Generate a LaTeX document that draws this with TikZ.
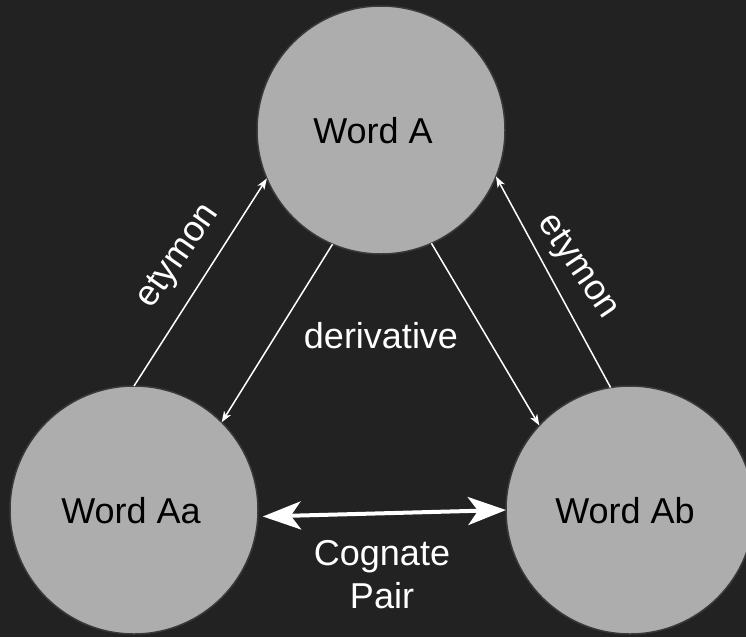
\documentclass[tikz,border=0pt]{standalone}
\usepackage{fontspec}
\setmainfont{Liberation Sans}
\usetikzlibrary{arrows.meta,calc}
\definecolor{bg}{HTML}{222222}
\definecolor{disc}{HTML}{ADADAD}
\definecolor{rim}{HTML}{3A3A3A}
\tikzset{pairtip/.tip={Stealth[length=38pt,width=28pt,inset=10pt]}}
\begin{document}
\begin{tikzpicture}[x=1pt,y=-1pt,
  word/.style={circle,fill=disc,draw=rim,line width=1.5pt,minimum size=248pt,inner sep=0pt,outer sep=0pt},
  wordlabel/.style={font=\fontsize{36}{43}\selectfont,text=black,anchor=base,inner sep=0pt},
  linklabel/.style={font=\fontsize{36}{43}\selectfont,text=white,inner sep=0pt},
  link/.style={draw=white,line width=1.5pt,-{Stealth[length=11pt,width=8pt,inset=3pt]}},
  pair/.style={draw=white,line width=4pt,pairtip-pairtip}]
\fill[bg] (0,0) rectangle (746,637);
\useasboundingbox (0,0) rectangle (746,637);

% the three words
\node[word] (A)  at (381,130) {};
\node[word] (Aa) at (134,510) {};
\node[word] (Ab) at (630,510) {};
\node[wordlabel] (Atext)  at (373,143) {Word A};
\node[wordlabel] (Aatext) at (131,523) {Word Aa};
\node[wordlabel] (Abtext) at (625,523) {Word Ab};

% etymon / derivative links
\draw[link] (Aa.90) -- (A.203);
\draw[link] (Ab.99) -- (A.338);
\draw[link] (A.247) -- (Aa.45);
\draw[link] (A.294) -- (Ab.137);

% cognate pair
\draw[pair] ($(Aa.-3)+(5,0)$) -- (Ab.180);

% labels
\node[linklabel,rotate=55] (etyL) at (179,257) {etymon};
\node[linklabel,rotate=-56] (etyR) at (577,267) {etymon};
\node[linklabel,anchor=base] (deriv) at (381,348) {derivative};
\node[linklabel,anchor=base,align=center] (cog) at (382,608) {Cognate\\Pair};
\end{tikzpicture}
\end{document}
